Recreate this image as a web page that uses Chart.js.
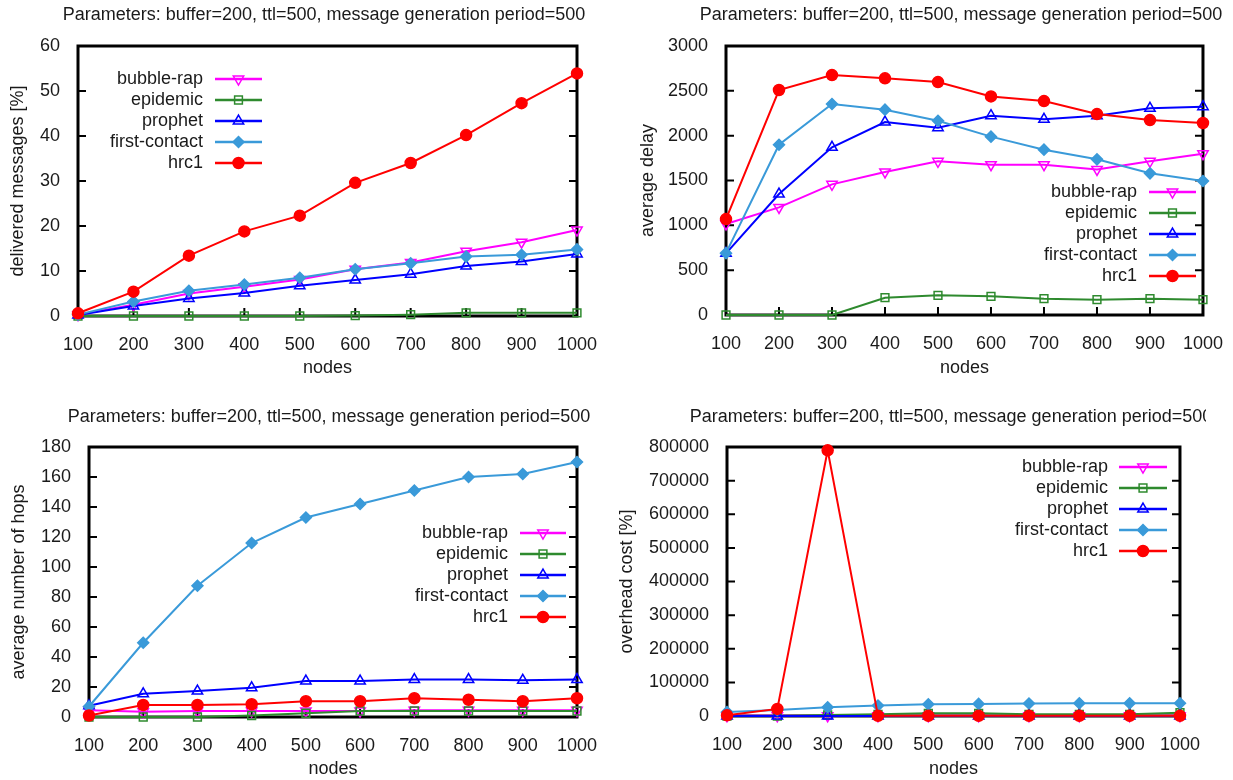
<!DOCTYPE html>
<html>
<head>
<meta charset="utf-8">
<script src="https://cdn.jsdelivr.net/npm/chart.js@4/dist/chart.umd.min.js"></script>
<style>
body { margin: 0; background: #fff; width: 1233px; height: 780px; overflow: hidden; position: relative; }
canvas { position: absolute; }
</style>
</head>
<body>
<canvas id="c-delivered" width="616" height="390" style="left:0;top:0"></canvas>
<canvas id="c-delay" width="617" height="390" style="left:616px;top:0"></canvas>
<canvas id="c-hops" width="616" height="390" style="left:0;top:390px"></canvas>
<canvas id="c-overhead" width="594" height="390" style="left:616px;top:390px"></canvas>
<script>
var nodes = [100, 200, 300, 400, 500, 600, 700, 800, 900, 1000]

// delivered messages [%]
var deliveredBubbleRap    = [0.3, 2.5, 5.0, 6.5, 8.1, 10.4, 11.9, 14.4, 16.4, 19.1]
var deliveredEpidemic     = [0, 0, 0, 0, 0, 0.1, 0.3, 0.7, 0.7, 0.7]
var deliveredProphet      = [0.2, 2.2, 3.9, 5.1, 6.7, 8.0, 9.3, 11.1, 12.1, 13.8]
var deliveredFirstContact = [0.3, 3.2, 5.6, 7.0, 8.5, 10.4, 11.7, 13.2, 13.6, 14.8]
var deliveredHrc1         = [0.6, 5.4, 13.4, 18.8, 22.3, 29.6, 34.0, 40.2, 47.3, 53.9]

// average delay
var delayBubbleRap    = [1015, 1200, 1457, 1595, 1714, 1676, 1676, 1624, 1714, 1799]
var delayEpidemic     = [0, 0, 0, 193, 219, 208, 182, 171, 182, 171]
var delayProphet      = [688, 1349, 1870, 2152, 2089, 2223, 2182, 2223, 2305, 2323]
var delayFirstContact = [690, 1899, 2353, 2290, 2167, 1989, 1844, 1736, 1580, 1494]
var delayHrc1         = [1070, 2509, 2676, 2639, 2598, 2438, 2386, 2241, 2174, 2141]

// average number of hops
var hopsBubbleRap    = [4.5, 3.5, 4, 4, 4, 4, 4.5, 4.5, 4.5, 4.5]
var hopsEpidemic     = [0, 0, 0, 1, 2.5, 4, 4, 4, 4, 4]
var hopsProphet      = [7.5, 15.5, 17.3, 19.5, 24, 24, 25, 25, 24.5, 25]
var hopsFirstContact = [7, 49.5, 87.5, 116, 133, 142, 151, 160, 162, 170]
var hopsHrc1         = [1, 8, 8, 8.5, 10.5, 10.5, 12.5, 11.5, 10.5, 12.5]

// overhead cost [%]
var overheadBubbleRap    = [500, 500, 500, 500, 500, 500, 500, 500, 500, 500]
var overheadEpidemic     = [0, 0, 3000, 5000, 8000, 8000, 5000, 5000, 5000, 10000]
var overheadProphet      = [0, 0, 0, 0, 0, 0, 0, 0, 0, 0]
var overheadFirstContact = [12000, 18000, 26000, 31000, 35000, 36000, 37000, 38000, 38000, 38000]
var overheadHrc1         = [2000, 21000, 790000, 500, 500, 500, 500, 500, 500, 500]

var FONT = '"Liberation Sans", Arial, sans-serif'
var INK = '#1a1a1a'
var paramsText = 'Parameters: buffer=200, ttl=500, message generation period=500'

var algos = [
    {label: 'bubble-rap',    color: '#ff00ff', style: 'triangle', rot: 180, fill: false, radius: 6},
    {label: 'epidemic',      color: '#2e8a2e', style: 'rect',     rot: 0,   fill: false, radius: 5.5},
    {label: 'prophet',       color: '#0000ff', style: 'triangle', rot: 0,   fill: false, radius: 6},
    {label: 'first-contact', color: '#3a9ad9', style: 'rectRot',  rot: 0,   fill: true,  radius: 5.5},
    {label: 'hrc1',          color: '#ff0000', style: 'circle',   rot: 0,   fill: true,  radius: 5.5}
]

function buildDatasets(rows){
    return algos.map(function(a, i){
        var inner = a.fill ? a.color : 'rgba(255,255,255,0)'
        return {
            label: a.label,
            data: rows[i],
            borderColor: a.color,
            backgroundColor: inner,
            borderWidth: 2,
            pointStyle: a.style,
            pointRotation: a.rot,
            pointRadius: a.radius,
            pointBorderWidth: 1.5,
            pointBackgroundColor: inner,
            pointBorderColor: a.color,
            tension: 0,
            clip: false,
            order: algos.length - 1 - i
        }
    })
}

// plot box with inward ticks (left, mirrored right, bottom)
var gnuFrame = {
    id: 'gnuFrame',
    beforeDatasetsDraw: function(chart){
        var a = chart.chartArea, ctx = chart.ctx
        var xs = chart.scales.x, ys = chart.scales.y
        ctx.save()
        ctx.strokeStyle = '#000'
        ctx.lineWidth = 2
        ctx.beginPath()
        ys.ticks.forEach(function(t){
            var py = ys.getPixelForValue(t.value)
            ctx.moveTo(a.left, py); ctx.lineTo(a.left + 8, py)
            ctx.moveTo(a.right - 8, py); ctx.lineTo(a.right, py)
        })
        xs.ticks.forEach(function(t, i){
            var px = xs.getPixelForTick(i)
            ctx.moveTo(px, a.bottom); ctx.lineTo(px, a.bottom - 8)
        })
        ctx.stroke()
        ctx.lineWidth = 3
        ctx.strokeRect(a.left, a.top, a.right - a.left, a.bottom - a.top)
        ctx.restore()
    }
}

// header line; clipRight cuts it off like the cropped panel
var panelTitle = {
    id: 'panelTitle',
    afterDraw: function(chart, args, opts){
        var ctx = chart.ctx
        ctx.save()
        if(opts.clipRight){
            ctx.beginPath()
            ctx.rect(0, 0, opts.clipRight, chart.height)
            ctx.clip()
        }
        ctx.font = '18px ' + FONT
        ctx.fillStyle = INK
        ctx.textAlign = 'center'
        ctx.textBaseline = 'middle'
        ctx.fillText(opts.text, opts.x, opts.y)
        ctx.restore()
    }
}

// key: label text right-aligned, then a line sample with the marker in its middle
var sideKey = {
    id: 'sideKey',
    afterDatasetsDraw: function(chart, args, opts){
        var ctx = chart.ctx
        ctx.save()
        chart.data.datasets.forEach(function(ds, i){
            var y = opts.top + i * opts.step
            ctx.font = '18px ' + FONT
            ctx.fillStyle = INK
            ctx.textAlign = 'right'
            ctx.textBaseline = 'middle'
            ctx.fillText(ds.label, opts.textRight, y)
            ctx.strokeStyle = ds.borderColor
            ctx.lineWidth = 2.5
            ctx.beginPath()
            ctx.moveTo(opts.x1, y); ctx.lineTo(opts.x2, y)
            ctx.stroke()
            ctx.fillStyle = ds.pointBackgroundColor
            ctx.lineWidth = ds.pointBorderWidth
            Chart.helpers.drawPoint(ctx, {
                pointStyle: ds.pointStyle, rotation: ds.pointRotation,
                radius: ds.pointRadius, borderWidth: ds.pointBorderWidth
            }, (opts.x1 + opts.x2) / 2, y)
        })
        ctx.restore()
    }
}

function makePanel(id, p){
    return new Chart(document.getElementById(id), {
        type: 'line',
        data: {labels: nodes, datasets: buildDatasets(p.rows)},
        plugins: [gnuFrame, sideKey, panelTitle],
        options: {
            responsive: false,
            animation: false,
            layout: {padding: {top: p.top, right: p.right, left: 0, bottom: 0}},
            scales: {
                x: {
                    type: 'category',
                    offset: false,
                    grid: {display: false},
                    border: {display: false},
                    ticks: {font: {family: FONT, size: 18}, color: INK, padding: 10, maxRotation: 0, autoSkip: false},
                    title: {display: true, text: 'nodes', font: {family: FONT, size: 18}, color: INK, padding: {top: 0, bottom: p.xTitlePad}},
                    afterFit: function(s){ s.height = p.xHeight }
                },
                y: {
                    min: 0, max: p.max,
                    grid: {display: false},
                    border: {display: false},
                    ticks: {stepSize: p.step, font: {family: FONT, size: 18}, color: INK, padding: 10,
                        callback: function(v){ return String(v) }},
                    title: {display: true, text: p.yTitle, font: {family: FONT, size: 18}, color: INK, padding: {top: p.yTitlePad, bottom: 0}},
                    afterFit: function(s){ s.width = p.yWidth }
                }
            },
            plugins: {
                legend: {display: false},
                tooltip: {enabled: false},
                panelTitle: {text: paramsText, x: p.titleX, y: p.titleY, clipRight: p.titleClip},
                sideKey: p.key
            }
        }
    })
}

makePanel('c-delivered', {
    rows: [deliveredBubbleRap, deliveredEpidemic, deliveredProphet, deliveredFirstContact, deliveredHrc1],
    max: 60, step: 10, yTitle: 'delivered messages [%]',
    top: 46, right: 39, yWidth: 78, xHeight: 74, xTitlePad: 11, yTitlePad: 7,
    titleX: 324, titleY: 15,
    key: {textRight: 203, x1: 215, x2: 262, top: 79, step: 21}
})

makePanel('c-delay', {
    rows: [delayBubbleRap, delayEpidemic, delayProphet, delayFirstContact, delayHrc1],
    max: 3000, step: 500, yTitle: 'average delay',
    top: 46, right: 26, yWidth: 110, xHeight: 75, xTitlePad: 11, yTitlePad: 21,
    titleX: 345, titleY: 15,
    key: {textRight: 521, x1: 533, x2: 580, top: 192, step: 21}
})

makePanel('c-hops', {
    rows: [hopsBubbleRap, hopsEpidemic, hopsProphet, hopsFirstContact, hopsHrc1],
    max: 180, step: 20, yTitle: 'average number of hops',
    top: 57, right: 39, yWidth: 89, xHeight: 63, xTitlePad: 0, yTitlePad: 8,
    titleX: 329, titleY: 27,
    key: {textRight: 508, x1: 520, x2: 566, top: 143, step: 21}
})

makePanel('c-overhead', {
    rows: [overheadBubbleRap, overheadEpidemic, overheadProphet, overheadFirstContact, overheadHrc1],
    max: 800000, step: 100000, yTitle: 'overhead cost [%]',
    top: 57, right: 22, yWidth: 111, xHeight: 64, xTitlePad: 0, yTitlePad: 0,
    titleX: 335, titleY: 27, titleClip: 590,
    key: {textRight: 492, x1: 503, x2: 551, top: 77, step: 21}
})
</script>
</body>
</html>
